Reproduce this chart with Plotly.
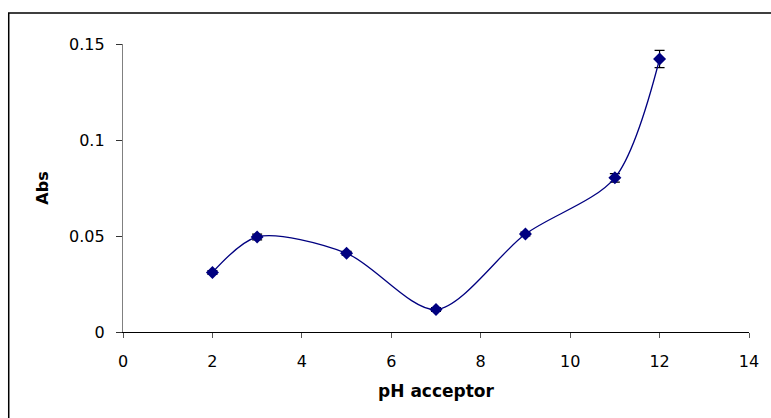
import plotly.graph_objects as go

ph = [2, 3, 5, 7, 9, 11, 12]
absorbance = [0.031, 0.0495, 0.041, 0.0117, 0.051, 0.0803, 0.1422]
err = [0.001, 0.0015, 0.001, 0.001, 0.001, 0.0022, 0.0045]
x_ticks = [0, 2, 4, 6, 8, 10, 12, 14]
y_ticks = [0, 0.05, 0.1, 0.15]
y_labels = ["0", "0.05", "0.1", "0.15"]

W, H = 771, 418
L, R, T, B = 123, 18, 44, 86
pw, ph_ = W - L - R, H - T - B

fig = go.Figure()
fig.add_trace(go.Scatter(
    x=ph, y=absorbance, mode="lines+markers",
    line=dict(color="#000080", width=1.3, shape="spline", smoothing=0.85),
    marker=dict(symbol="diamond", size=10, color="#000080"),
    error_y=dict(type="data", array=err, visible=True, color="black", thickness=1.2, width=5),
    cliponaxis=False, showlegend=False,
))

font = "DejaVu Sans, Liberation Sans, Arial, sans-serif"
fig.update_layout(
    width=W, height=H,
    margin=dict(l=L, r=R, t=T, b=B),
    paper_bgcolor="white", plot_bgcolor="white",
    font=dict(family=font, size=16, color="black"),
    xaxis=dict(
        range=[0, 14], tickvals=x_ticks, showgrid=False, zeroline=False,
        showline=True, linecolor="black", linewidth=1.3,
        ticks="outside", ticklen=5, tickcolor="#555", tickwidth=1.3,
        ticklabelstandoff=10,
        title=dict(text="<b>pH acceptor</b>", font=dict(size=17), standoff=14),
    ),
    yaxis=dict(
        range=[0, 0.15], tickvals=y_ticks, ticktext=y_labels, showgrid=False, zeroline=False,
        showline=True, linecolor="#808080", linewidth=1.3,
        ticks="outside", ticklen=6, tickcolor="#333", tickwidth=1.3,
        ticklabelstandoff=8,
        title=dict(text="<b>Abs</b>", font=dict(size=16), standoff=16),
    ),
)

# outer chart-area border (extends beyond the right and bottom edges)
x0 = (8 - L) / pw
y1 = 1 + (T - 13) / ph_
fig.add_shape(type="rect", xref="paper", yref="paper",
              x0=x0, x1=1 + (R + 40) / pw, y0=-(B + 40) / ph_, y1=y1,
              line=dict(color="black", width=1.5), fillcolor="rgba(0,0,0,0)", layer="below")

fig.write_html("out.html")
